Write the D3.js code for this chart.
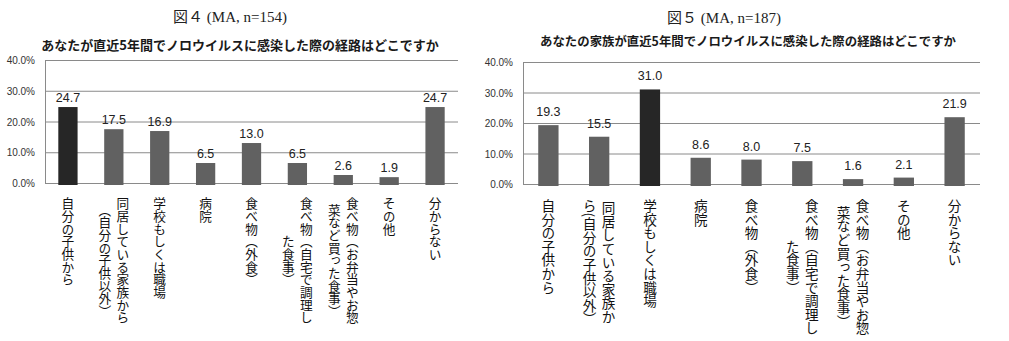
<!DOCTYPE html>
<html><head><meta charset="utf-8">
<script src="https://cdn.jsdelivr.net/npm/d3@7"></script>
<style>
body{margin:0;background:#fff;}
svg{display:block;}
</style>
</head><body>
<svg id="c" width="1009" height="341"></svg>
<script>
// ---- data ----
const fig4Caption = "図４ (MA, n=154)";
const fig4Title = "あなたが直近5年間でノロウイルスに感染した際の経路はどこですか";
const fig4Categories = [
  "自分の子供から",
  "同居している家族から\n（自分の子供以外）",
  "学校もしくは職場",
  "病院",
  "食べ物（外食）",
  "食べ物（自宅で調理し\nた食事）",
  "食べ物（お弁当やお惣\n菜など買った食事）",
  "その他",
  "分からない"
];
const fig4Values = [24.7, 17.5, 16.9, 6.5, 13.0, 6.5, 2.6, 1.9, 24.7];
const fig4Highlight = [true, false, false, false, false, false, false, false, false];

const fig5Caption = "図５ (MA, n=187)";
const fig5Title = "あなたの家族が直近5年間でノロウイルスに感染した際の経路はどこですか";
const fig5Categories = [
  "自分の子供から",
  "同居している家族か\nら(自分の子供以外）",
  "学校もしくは職場",
  "病院",
  "食べ物（外食）",
  "食べ物（自宅で調理し\nた食事）",
  "食べ物（お弁当やお惣\n菜など買った食事）",
  "その他",
  "分からない"
];
const fig5Values = [19.3, 15.5, 31.0, 8.6, 8.0, 7.5, 1.6, 2.1, 21.9];
const fig5Highlight = [false, false, true, false, false, false, false, false, false];

const yTicks = [0, 10, 20, 30, 40];

// ---- drawing ----
const svg = d3.select("#c");
const CJK = "'Noto Sans CJK JP', 'Noto Sans', sans-serif";

function drawChart(cfg) {
  const g = svg.append("g");
  const x = d3.scaleBand().domain(cfg.categories.map((d, i) => i))
    .range([cfg.left, cfg.right]).paddingInner(cfg.pad).paddingOuter(cfg.pad / 2);
  const y = d3.scaleLinear().domain([0, 40]).range([cfg.bottom, cfg.top]);

  // caption
  g.append("text").attr("x", cfg.capX).attr("y", cfg.capY)
    .attr("text-anchor", "middle")
    .style("font-family", "'Liberation Serif', 'Noto Sans CJK JP', serif")
    .style("font-size", "15px").attr("fill", "#222")
    .text(cfg.caption);
  // title
  g.append("text").attr("x", cfg.titleX).attr("y", cfg.titleY)
    .attr("text-anchor", "middle")
    .style("font-family", CJK).style("font-weight", "bold")
    .style("font-size", cfg.titleSize + "px").attr("fill", "#1a1a1a")
    .text(cfg.title);

  // gridlines
  g.append("g").selectAll("line").data(yTicks).join("line")
    .attr("x1", cfg.left).attr("x2", cfg.right)
    .attr("y1", d => y(d) + 0.5).attr("y2", d => y(d) + 0.5)
    .attr("stroke", "#8a8a8a").attr("stroke-width", 1);
  // left axis line
  g.append("line").attr("x1", cfg.left + 0.5).attr("x2", cfg.left + 0.5)
    .attr("y1", y(40)).attr("y2", y(0) + 1)
    .attr("stroke", "#8a8a8a");

  // y tick labels
  g.append("g").selectAll("text").data(yTicks).join("text")
    .attr("x", cfg.left - 10).attr("y", d => y(d) + 4)
    .attr("text-anchor", "end")
    .style("font-family", "'Liberation Sans', Arial, sans-serif")
    .style("font-size", "10px").attr("fill", "#333")
    .text(d => d3.format(".1f")(d) + "%");

  // bars
  g.append("g").selectAll("rect").data(cfg.values).join("rect")
    .attr("x", (d, i) => x(i)).attr("width", x.bandwidth())
    .attr("y", d => y(d)).attr("height", d => y(0) - y(d) + 2)
    .attr("fill", (d, i) => cfg.highlight[i] ? "#262626" : "#616161");

  // value labels
  g.append("g").selectAll("text").data(cfg.values).join("text")
    .attr("x", (d, i) => x(i) + x.bandwidth() / 2).attr("y", d => y(d) - cfg.valGap)
    .attr("text-anchor", "middle")
    .style("font-family", "'Liberation Sans', Arial, sans-serif")
    .style("font-size", cfg.valSize + "px").attr("fill", "#222")
    .text(d => d.toFixed(1));

  // category labels (vertical)
  const fs = cfg.catSize;
  cfg.categories.forEach((label, i) => {
    const lines = label.split("\n");
    const cx = x(i) + x.bandwidth() / 2;
    const n = lines.length;
    const texts = lines.map((ln, j) => {
      const colX = cx + ((n - 1) / 2 - j) * cfg.colGap;
      return g.append("text")
        .attr("x", colX).attr("y", cfg.labelTop)
        .style("writing-mode", "vertical-rl")
        .style("font-family", CJK)
        .style("font-size", fs + "px").attr("fill", "#111")
        .text(ln);
    });
    const lens = texts.map(t => t.node().getComputedTextLength());
    const maxLen = d3.max(lens);
    texts.forEach(t => t.attr("text-anchor", "middle").attr("y", cfg.labelTop + maxLen / 2));
  });
}

drawChart({
  caption: fig4Caption, title: fig4Title, categories: fig4Categories,
  values: fig4Values, highlight: fig4Highlight,
  left: 45, right: 458, top: 60, bottom: 183, pad: 0.58,
  capX: 230, capY: 22, titleX: 240, titleY: 50, titleSize: 13,
  valSize: 12.5, valGap: 5.5, catSize: 12.7, colGap: 18, labelTop: 197
});
drawChart({
  caption: fig5Caption, title: fig5Title, categories: fig5Categories,
  values: fig5Values, highlight: fig5Highlight,
  left: 523, right: 980, top: 62, bottom: 184, pad: 0.6,
  capX: 724, capY: 23, titleX: 748, titleY: 46, titleSize: 12.4,
  valSize: 12.5, valGap: 9, catSize: 13.6, colGap: 19, labelTop: 199
});
</script>
</body></html>
